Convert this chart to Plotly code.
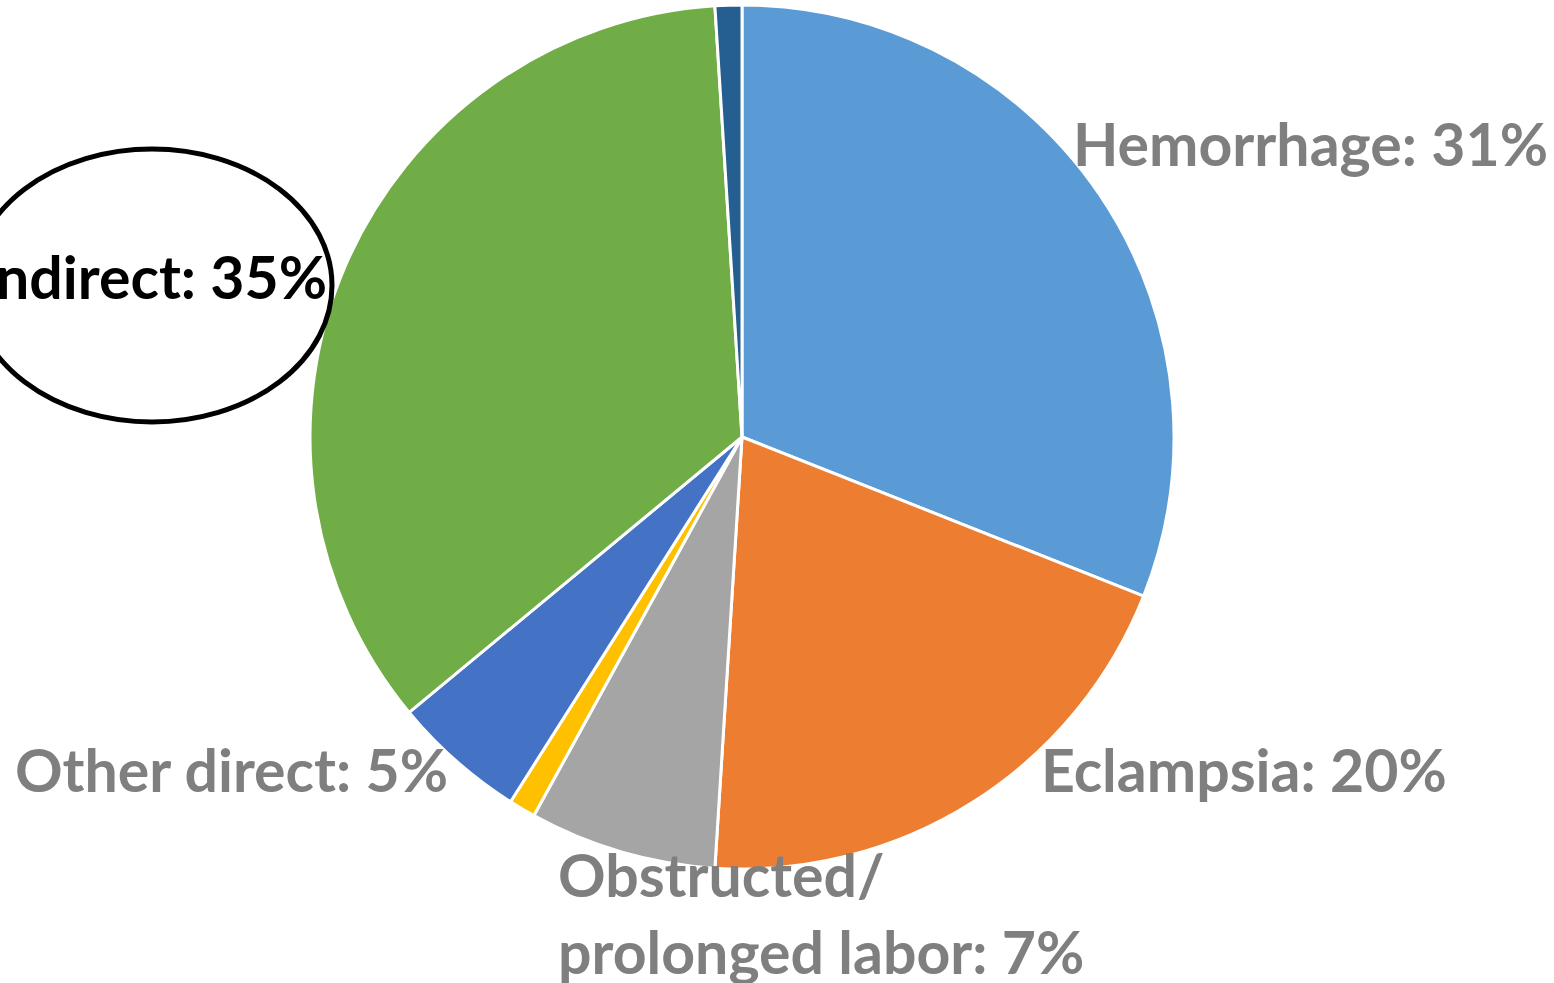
import plotly.graph_objects as go

W, H = 1554, 983

categories = ["Hemorrhage", "Eclampsia", "Obstructed/<br>prolonged labor", "Abortion",
              "Other direct", "Indirect", "Embolism"]
values = [31, 20, 7, 1, 5, 35, 1]
colors = ["#5B9BD5", "#ED7D31", "#A5A5A5", "#FFC000", "#4472C4", "#70AD47", "#255E91"]
show_label = [True, True, True, False, True, True, False]

# label anchor positions in pixels (x, middle y, anchor)
label_pos = {
    "Hemorrhage": (1071, 143, "left"),
    "Eclampsia": (1039, 769, "left"),
    "Obstructed/<br>prolonged labor": (556, 913, "left"),
    "Other direct": (13, 769, "left"),
    "Indirect": (329, 276, "right"),
}

cx, cy, r = 742, 437, 432

fig = go.Figure()
fig.add_trace(go.Pie(
    labels=categories,
    values=values,
    sort=False,
    direction="clockwise",
    rotation=0,
    textinfo="none",
    hoverinfo="label+percent",
    marker=dict(colors=colors, line=dict(color="white", width=3)),
    domain=dict(x=[(cx - r) / W, (cx + r) / W], y=[1 - (cy + r) / H, 1 - (cy - r) / H]),
    showlegend=False,
))

annotations = []
for cat, val, show in zip(categories, values, show_label):
    if not show:
        continue
    px, py, anchor = label_pos[cat]
    color = "black" if cat == "Indirect" else "#7F7F7F"
    annotations.append(dict(
        x=px / W, y=1 - py / H, xref="paper", yref="paper",
        xanchor=anchor, yanchor="middle", align="left",
        text=f"<b>{cat}: {val}%</b>", showarrow=False,
        font=dict(family="Lato", size=59, color=color),
    ))

# ellipse around "Indirect" label
ex0, ex1, ey0, ey1 = -28, 332, 149, 422
shapes = [dict(type="circle", xref="paper", yref="paper",
               x0=ex0 / W, x1=ex1 / W, y0=1 - ey1 / H, y1=1 - ey0 / H,
               line=dict(color="black", width=5), fillcolor="rgba(0,0,0,0)")]

fig.update_layout(
    width=W, height=H,
    margin=dict(l=0, r=0, t=0, b=0),
    paper_bgcolor="white", plot_bgcolor="white",
    annotations=annotations, shapes=shapes,
    showlegend=False,
)

fig.write_html("out.html", config={"displayModeBar": False},
               post_script="document.body.style.margin='0';document.body.style.overflow='hidden';")
